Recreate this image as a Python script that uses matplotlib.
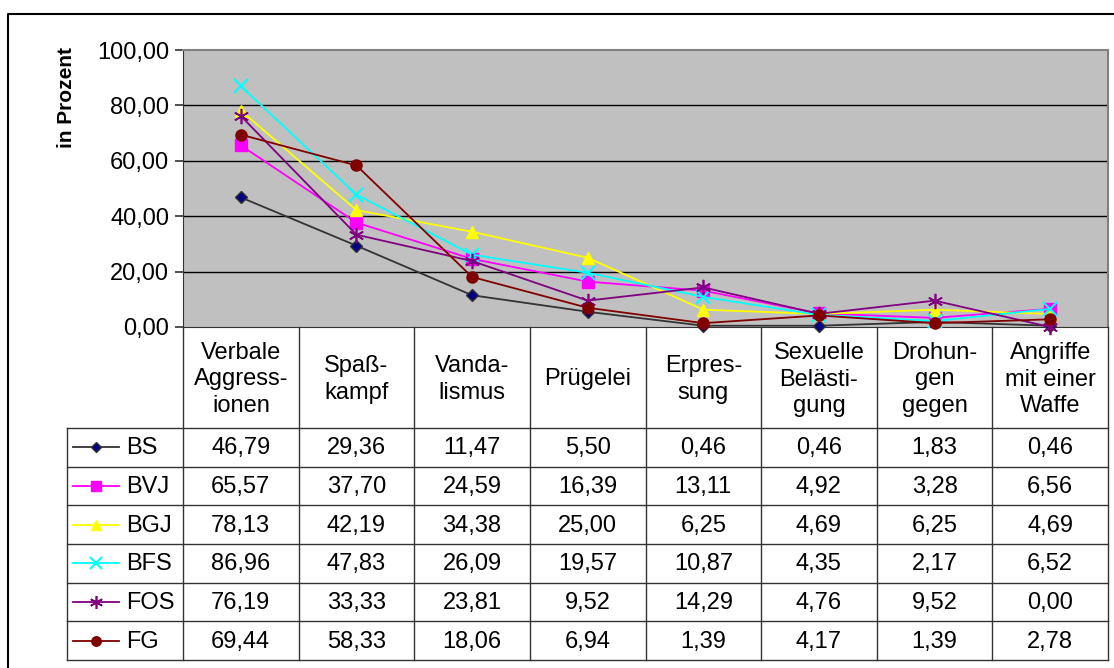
import numpy as np
import matplotlib.pyplot as plt
from matplotlib.lines import Line2D

plt.rcParams['font.family'] = ['Liberation Sans', 'DejaVu Sans']

categories = ["Verbale\nAggress-\nionen", "Spaß-\nkampf", "Vanda-\nlismus", "Prügelei",
              "Erpres-\nsung", "Sexuelle\nBelästi-\ngung", "Drohun-\ngen\ngegen",
              "Angriffe\nmit einer\nWaffe"]
series_names = ["BS", "BVJ", "BGJ", "BFS", "FOS", "FG"]
bs = [46.79, 29.36, 11.47, 5.50, 0.46, 0.46, 1.83, 0.46]
bvj = [65.57, 37.70, 24.59, 16.39, 13.11, 4.92, 3.28, 6.56]
bgj = [78.13, 42.19, 34.38, 25.00, 6.25, 4.69, 6.25, 4.69]
bfs = [86.96, 47.83, 26.09, 19.57, 10.87, 4.35, 2.17, 6.52]
fos = [76.19, 33.33, 23.81, 9.52, 14.29, 4.76, 9.52, 0.00]
fg = [69.44, 58.33, 18.06, 6.94, 1.39, 4.17, 1.39, 2.78]
y_ticks = [0, 20, 40, 60, 80, 100]

values = [bs, bvj, bgj, bfs, fos, fg]
styles = [
    dict(color='#333333', marker='D', mfc='#000080', mec='#333333', ms=6),
    dict(color='#FF00FF', marker='s', mfc='#FF00FF', mec='#FF00FF', ms=8),
    dict(color='#FFFF00', marker='^', mfc='#FFFF00', mec='#FFFF00', ms=9),
    dict(color='#00FFFF', marker='x', mfc='#00FFFF', mec='#00FFFF', ms=10, mew=1.5),
    dict(color='#800080', marker=(6, 2, 0), mfc='#800080', mec='#800080', ms=11, mew=1.2),
    dict(color='#800000', marker='o', mfc='#800000', mec='#800000', ms=8),
]

FS = 17
W, H = 1114, 668
fig = plt.figure(figsize=(W / 100, H / 100), dpi=100)

# plot area in pixel coords
px0, px1, py0, py1 = 183, 1108, 50, 327
ax = fig.add_axes([px0 / W, 1 - py1 / H, (px1 - px0) / W, (py1 - py0) / H])
ax.set_facecolor('#C0C0C0')
x = np.arange(len(categories))
for vals, st in zip(values, styles):
    ax.plot(x, vals, lw=1.3, zorder=3, clip_on=False, **st)
ax.set_xlim(-0.5, len(categories) - 0.5)
ax.set_ylim(0, 100)
ax.set_yticks(y_ticks)
ax.set_yticklabels([f"{v:.2f}".replace('.', ',') for v in y_ticks], fontsize=FS)
ax.set_xticks([])
ax.tick_params(axis='y', length=6, color='#333333', width=1.2, pad=4)
for yv in y_ticks[1:-1]:
    ax.axhline(yv, color='black', lw=1, zorder=1)
for side in ['top', 'right']:
    ax.spines[side].set_color('#808080')
    ax.spines[side].set_linewidth(1.5)
ax.spines['left'].set_color('#333333')
ax.spines['bottom'].set_color('#333333')

# overlay in pixel coords for the data table
ov = fig.add_axes([0, 0, 1, 1], facecolor='none')
ov.set_xlim(0, W)
ov.set_ylim(H, 0)
ov.axis('off')

ov.text(67, 97, "in Prozent", rotation=90, ha='center', va='center',
        fontsize=15, fontweight='bold')

# outer border
ov.plot([8, 8, 1114], [668, 14, 14], color='black', lw=1.5)

colw = (px1 - px0) / len(categories)
col_edges = [px0 + i * colw for i in range(len(categories) + 1)]
hdr_top, hdr_bot = py1, 428
row_h = (660 - hdr_bot) / len(series_names)
leg_x0 = 67

# header vertical lines and labels
for xe in col_edges:
    ov.plot([xe, xe], [hdr_top, 660], color='#333333', lw=1)
for i, c in enumerate(categories):
    ov.text((col_edges[i] + col_edges[i + 1]) / 2, (hdr_top + hdr_bot) / 2 + 2, c,
            ha='center', va='center', fontsize=FS, linespacing=1.25)

# table rows
for r in range(len(series_names) + 1):
    yy = hdr_bot + r * row_h
    ov.plot([leg_x0, px1], [yy, yy], color='#333333', lw=1)
ov.plot([leg_x0, leg_x0], [hdr_bot, 660], color='#333333', lw=1)

for r, (name, vals, st) in enumerate(zip(series_names, values, styles)):
    yc = hdr_bot + (r + 0.5) * row_h
    key = {**st, 'ms': st['ms'] * 0.85}
    ov.add_line(Line2D([73, 96, 119], [yc, yc, yc], lw=1.3, markevery=[1], **key))
    ov.text(126, yc + 1, name, ha='left', va='center', fontsize=FS)
    for i, v in enumerate(vals):
        ov.text((col_edges[i] + col_edges[i + 1]) / 2, yc + 1, f"{v:.2f}".replace('.', ','),
                ha='center', va='center', fontsize=FS)

fig.savefig("out.png", dpi=100)
